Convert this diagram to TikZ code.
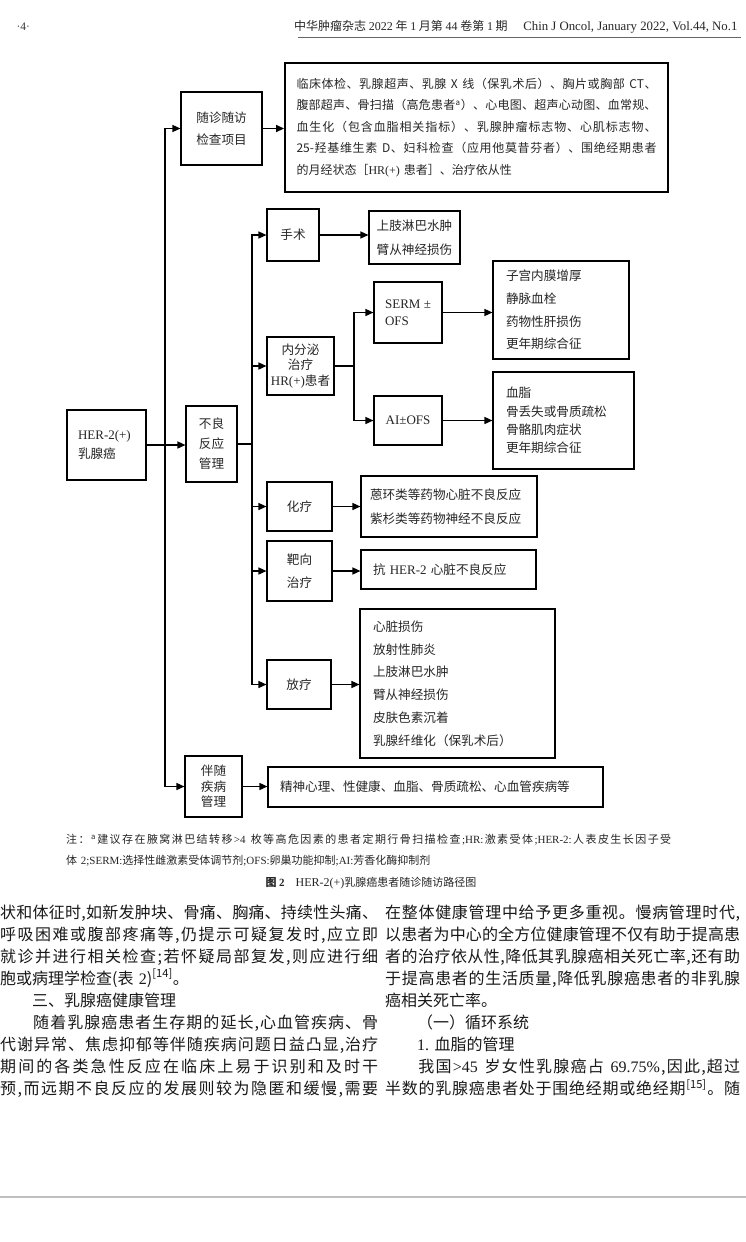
\documentclass[tikz,border=0pt]{standalone}
\usepackage{fontspec}
\newfontfamily\cjk{Noto Sans CJK SC}
\newfontfamily\ser{Liberation Serif}
\usetikzlibrary{arrows.meta}
\ExplSyntaxOn
\cs_new_protected:Npn \jlx #1
  { \leavevmode \hbox to \hsize { \tl_map_inline:nn {#1} { { ##1 } \hskip 0pt plus 1fil } \unskip } }
\ExplSyntaxOff
\newcommand\fs[2]{\fontsize{#1}{#2}\selectfont}
\begin{document}
\begin{tikzpicture}[x=1pt,y=-1pt, font=\cjk,
  box/.style={draw=black, line width=1.1pt, inner sep=0pt, text=black!85},
  arr/.style={line width=1.4pt, -{Triangle[length=8pt,width=7pt]}},
  ln/.style={line width=1.4pt},
  cl/.style={align=center, font=\cjk\fs{12.6}{#1}},
  ll/.style={align=left, font=\cjk\fs{12.6}{#1}},
]
\useasboundingbox (0,0) rectangle (746,1242);
\fill[white] (0,0) rectangle (746,1242);

% header
\node[anchor=west, font=\ser\fs{11.5}{13}, text=black!80] (pg) at (13,27) {·4·};
\node[anchor=east, font=\cjk\fs{12}{13}, text=black!85] (hdr) at (741,27) {中华肿瘤杂志 {\ser 2022} 年 {\ser 1} 月第 {\ser 44} 卷第 {\ser 1} 期\hspace{1.3em}{\ser\fs{12.8}{13}Chin J Oncol, January 2022, Vol.44, No.1}};
\draw[black!60, line width=0.8pt] (298,37) -- (741,37);

% diagram boxes
\node[box, minimum width=81, minimum height=73, cl=22] (sz) at (221.5,128.5) {随诊随访\\检查项目};
\node[box, line width=1.8pt, text width=360, inner xsep=11.5, minimum height=129, align=left, font=\cjk\fs{12}{21.5}] (big) at (476.5,127.5)
 {\jlx{临床体检、乳腺超声、乳腺{~X~}线（保乳术后）、胸片或胸部{~CT}、}\\
  \jlx{腹部超声、骨扫描（高危患者{\textsuperscript{a}}）、心电图、超声心动图、血常规、}\\
  \jlx{血生化（包含血脂相关指标）、乳腺肿瘤标志物、心肌标志物、}\\
  \jlx{{25-}羟基维生素{~D}、妇科检查（应用他莫昔芬者）、围绝经期患者}\\
  的月经状态［{\ser HR(+)} 患者］、治疗依从性};

\node[box, minimum width=79, minimum height=70, text width=57, inner xsep=11, ll=19] (her) at (106.5,445) {{\ser\fs{13}{19}HER-2(+)}\\乳腺癌};
\node[box, minimum width=51, minimum height=76, cl=20] (bl) at (211.5,444) {不良\\反应\\管理};

\node[box, minimum width=52, minimum height=52, cl=20] (ss) at (293,235) {手术};
\node[box, minimum width=91, minimum height=53, cl=24] (ssE) at (414.5,237.5) {上肢淋巴水肿\\臂从神经损伤};

\node[box, minimum width=67, minimum height=58, cl=15.5] (nfm) at (300.5,366) {内分泌\\治疗\\{\ser\fs{13}{15.5}HR(+)}患者};
\node[box, minimum width=68, minimum height=61, align=left, font=\ser\fs{13}{17}] (serm) at (408,312.5) {SERM ±\\OFS};
\node[box, minimum width=136, minimum height=98, text width=110, inner xsep=13, ll=22.7] (sermE) at (561,310) {子宫内膜增厚\\静脉血栓\\药物性肝损伤\\更年期综合征};
\node[box, minimum width=68, minimum height=49, align=center, font=\ser\fs{13}{15}] (ai) at (408,420.5) {AI±OFS};
\node[box, minimum width=141, minimum height=97, text width=115, inner xsep=13, ll=18.3] (aiE) at (563.5,420.5) {血脂\\骨丢失或骨质疏松\\骨骼肌肉症状\\更年期综合征};

\node[box, minimum width=65, minimum height=49, cl=15] (hl) at (299.5,506.5) {化疗};
\node[box, minimum width=176, minimum height=61, text width=158, inner xsep=9, ll=24] (hlE) at (449,506.5) {蒽环类等药物心脏不良反应\\紫杉类等药物神经不良反应};
\node[box, minimum width=65, minimum height=60, cl=23] (bx) at (299.5,571) {靶向\\治疗};
\node[box, minimum width=175, minimum height=39, text width=151, inner xsep=12, ll=15] (bxE) at (448.5,569.5) {抗 {\ser\fs{13}{15}HER-2} 心脏不良反应};
\node[box, minimum width=64, minimum height=49, cl=15] (fl) at (299,684.5) {放疗};
\node[box, minimum width=195, minimum height=149, text width=169, inner xsep=13, ll=22.8] (flE) at (457.5,683.5) {心脏损伤\\放射性肺炎\\上肢淋巴水肿\\臂从神经损伤\\皮肤色素沉着\\乳腺纤维化（保乳术后）};
\node[box, minimum width=57, minimum height=61, cl=15.5] (bs) at (213.5,786.5) {伴随\\疾病\\管理};
\node[box, minimum width=335, minimum height=40, text width=311, inner xsep=12, ll=15] (bsE) at (435.5,787) {精神心理、性健康、血脂、骨质疏松、心血管疾病等};

% connectors
\coordinate (t1) at (165,445);
\coordinate (t2) at (252,444);
\coordinate (t3) at (354,366);
\draw[arr] (her.east) -- (her.east -| bl.west);
\draw[arr] (t1) |- (sz.west);
\draw[arr] (t1) |- (bs.west);
\draw[arr] (sz.east) -- (sz.east -| big.west);
\draw[ln] (bl.east) -- (t2);
\draw[arr] (t2) |- (ss.west);
\draw[arr] (t2) |- (nfm.west);
\draw[arr] (t2) |- (hl.west);
\draw[arr] (t2) |- (bx.west);
\draw[arr] (t2) |- (fl.west);
\draw[arr] (ss.east) -- (ss.east -| ssE.west);
\draw[ln] (nfm.east) -- (t3);
\draw[arr] (t3) |- (serm.west);
\draw[arr] (t3) |- (ai.west);
\draw[arr] (serm.east) -- (serm.east -| sermE.west);
\draw[arr] (ai.east) -- (ai.east -| aiE.west);
\draw[arr] (hl.east) -- (hl.east -| hlE.west);
\draw[arr] (bx.east) -- (bx.east -| bxE.west);
\draw[arr] (fl.east) -- (fl.east -| flE.west);
\draw[arr] (bs.east) -- (bs.east -| bsE.west);

% caption
\node[anchor=north west, inner sep=0pt, text width=605, align=left, font=\cjk\fs{11}{21}, text=black!85] (note) at (66,834)
 {\jlx{注：{\textsuperscript{a}}建议存在腋窝淋巴结转移{\ser >4~}枚等高危因素的患者定期行骨扫描检查{\ser ;HR:}激素受体{\ser ;HER-2:}人表皮生长因子受}\\
  体{\ser~2;SERM:}选择性雌激素受体调节剂{\ser ;OFS:}卵巢功能抑制{\ser ;AI:}芳香化酶抑制剂};
\node[font=\cjk\fs{11}{13}, text=black!85] (cap) at (371,883) {\textbf{图 {\ser 2}}\hspace{1em}{\ser\fs{12}{13}HER-2(+)}乳腺癌患者随诊随访路径图};

% body text
\node[anchor=north west, inner sep=0pt, text width=378, align=left, font=\cjk\fs{16}{22}, text=black!90] (colL) at (0,904.5)
 {\jlx{状和体征时,如新发肿块、骨痛、胸痛、持续性头痛、}\\
  \jlx{呼吸困难或腹部疼痛等,仍提示可疑复发时,应立即}\\
  \jlx{就诊并进行相关检查;若怀疑局部复发,则应进行细}\\
  胞或病理学检查(表~{\ser 2})\textsuperscript{[14]}。\\
  \hspace*{2em}三、乳腺癌健康管理\\
  \jlx{{\hspace*{2em}}随着乳腺癌患者生存期的延长,心血管疾病、骨}\\
  \jlx{代谢异常、焦虑抑郁等伴随疾病问题日益凸显,治疗}\\
  \jlx{期间的各类急性反应在临床上易于识别和及时干}\\
  \jlx{预,而远期不良反应的发展则较为隐匿和缓慢,需要}};
\node[anchor=north west, inner sep=0pt, text width=355, align=left, font=\cjk\fs{16}{22}, text=black!90] (colR) at (385,904.5)
 {\jlx{在整体健康管理中给予更多重视。慢病管理时代,}\\
  \jlx{以患者为中心的全方位健康管理不仅有助于提高患}\\
  \jlx{者的治疗依从性,降低其乳腺癌相关死亡率,还有助}\\
  \jlx{于提高患者的生活质量,降低乳腺癌患者的非乳腺}\\
  癌相关死亡率。\\
  \hspace*{2em}（一）循环系统\\
  \hspace*{2em}{\ser 1.}~血脂的管理\\
  \jlx{{\hspace*{2em}}我国{\ser >45~}岁女性乳腺癌占{\ser ~69.75\%},因此,超过}\\
  \jlx{半数的乳腺癌患者处于围绝经期或绝经期{\textsuperscript{[15]}}。随}};

\draw[black!25, line width=1.5pt] (0,1197) -- (746,1197);
\end{tikzpicture}
\end{document}
